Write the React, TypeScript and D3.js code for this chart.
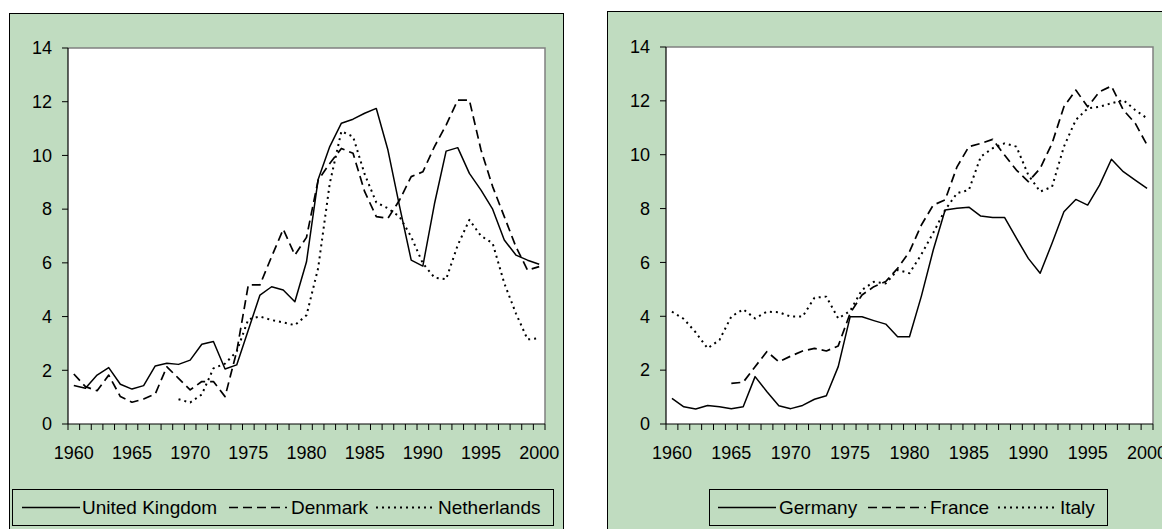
import React from 'react';
import * as d3 from 'd3';

const years = d3.range(1960, 2001);
const yTicks = [0, 2, 4, 6, 8, 10, 12, 14];
const xTickLabels = [1960, 1965, 1970, 1975, 1980, 1985, 1990, 1995, 2000];

const ukValues = [1.43, 1.33, 1.82, 2.1, 1.48, 1.3, 1.43, 2.16, 2.26, 2.22,
  2.38, 2.97, 3.07, 2.05, 2.2, 3.5, 4.8, 5.11, 4.99, 4.55,
  6.04, 9.1, 10.33, 11.2, 11.35, 11.57, 11.75, 10.2, 8.1, 6.1,
  5.88, 8.2, 10.16, 10.29, 9.33, 8.71, 8.0, 6.85, 6.29, 6.1, 5.95];
const denmarkValues = [1.86, 1.39, 1.24, 1.82, 1.02, 0.81, 0.93, 1.12, 2.13, 1.7,
  1.27, 1.58, 1.58, 1.02, 2.7, 5.18, 5.18, 6.23, 7.25, 6.29,
  6.95, 9.08, 9.7, 10.26, 10.08, 8.65, 7.72, 7.66, 8.34, 9.21,
  9.39, 10.33, 11.13, 12.06, 12.06, 10.2, 8.84, 7.72, 6.6, 5.73, 5.86];
const netherlandsValues = [null, null, null, null, null, null, null, null, null, 0.92,
  0.8, 1.1, 2.07, 2.25, 2.7, 3.9, 4.0, 3.87, 3.78, 3.68,
  4.05, 5.8, 8.96, 10.9, 10.7, 9.3, 8.25, 8.03, 7.72, 6.97,
  5.98, 5.45, 5.39, 6.66, 7.6, 7.0, 6.73, 5.24, 4.12, 3.15, 3.19];

const germanyValues = [0.95, 0.64, 0.56, 0.69, 0.64, 0.57, 0.64, 1.76, 1.2, 0.68,
  0.57, 0.69, 0.92, 1.05, 2.13, 3.98, 3.98, 3.84, 3.71, 3.24,
  3.24, 4.75, 6.46, 7.95, 8.01, 8.05, 7.72, 7.67, 7.67, 6.9,
  6.15, 5.6, 6.71, 7.88, 8.34, 8.13, 8.87, 9.83, 9.37, 9.06, 8.75];
const franceValues = [null, null, null, null, null, 1.51, 1.55, 2.13, 2.69, 2.31,
  2.52, 2.71, 2.81, 2.71, 2.9, 4.11, 4.79, 5.1, 5.29, 5.78,
  6.4, 7.39, 8.13, 8.32, 9.55, 10.3, 10.42, 10.57, 9.99, 9.43,
  9.0, 9.49, 10.42, 11.78, 12.4, 11.78, 12.34, 12.55, 11.66, 11.17, 10.36];
const italyValues = [4.17, 3.9, 3.4, 2.81, 3.12, 3.99, 4.26, 3.92, 4.17, 4.15,
  3.99, 3.99, 4.69, 4.73, 3.92, 4.2, 4.98, 5.28, 5.22, 5.72,
  5.6, 6.3, 7.1, 7.95, 8.57, 8.69, 9.93, 10.24, 10.42, 10.3,
  9.25, 8.63, 8.81, 10.3, 11.29, 11.72, 11.78, 11.91, 12.03, 11.66, 11.35];

const leftNames = ['United Kingdom', 'Denmark', 'Netherlands'];
const rightNames = ['Germany', 'France', 'Italy'];

const font = 'Liberation Sans, Arial, sans-serif';
// solid, long dash, round dot
const styles = [
  { dash: undefined, width: 1.5 },
  { dash: '9 5', width: 1.7 },
  { dash: '2 4', width: 2 },
];

type Props = {
  frame: { x: number; y: number; w: number; h: number };
  plot: { left: number; right: number; top: number; bottom: number };
  series: (number | null)[][];
  names: string[];
  legend: { x: number; y: number; w: number; h: number; lineX: number[]; textX: number[] };
};

const Panel = ({ frame, plot, series, names, legend }: Props) => {
  const x = d3.scaleBand<number>().domain(years).range([plot.left, plot.right]);
  const y = d3.scaleLinear().domain([0, 14]).range([plot.bottom, plot.top]);
  const cx = (i: number) => (x(years[i]) as number) + x.bandwidth() / 2;

  const line = d3.line<number | null>()
    .defined(d => d != null)
    .x((d, i) => cx(i))
    .y(d => y(d as number));

  // category axis: tick marks sit between the years
  const boundaries = d3.range(years.length + 1).map(i => plot.left + i * x.step());

  return (
    <g fontFamily={font} fill="#000">
      <rect x={frame.x} y={frame.y} width={frame.w} height={frame.h} fill="#c0dcc0" stroke="#000" strokeWidth={1} />
      <rect x={plot.left} y={plot.top} width={plot.right - plot.left} height={plot.bottom - plot.top} fill="#fff" />
      <path d={`M${plot.left},${plot.top}H${plot.right}V${plot.bottom}`} fill="none" stroke="#808080" strokeWidth={1.5} />

      {series.map((s, k) => (
        <path key={k} d={line(s) || ''} fill="none" stroke="#000"
          strokeWidth={styles[k].width} strokeDasharray={styles[k].dash} strokeLinejoin="round" />
      ))}

      <line x1={plot.left} x2={plot.left} y1={plot.top} y2={plot.bottom} stroke="#000" strokeWidth={1.2} />
      <line x1={plot.left} x2={plot.right} y1={plot.bottom} y2={plot.bottom} stroke="#000" strokeWidth={1.2} />

      {yTicks.map(t => (
        <g key={t}>
          <line x1={plot.left - 6} x2={plot.left} y1={y(t)} y2={y(t)} stroke="#000" />
          <text x={plot.left - 16} y={y(t)} dy=".35em" textAnchor="end" fontSize={18}>{t}</text>
        </g>
      ))}
      {boundaries.map((b, i) => (
        <line key={i} x1={b} x2={b} y1={plot.bottom} y2={plot.bottom + 6} stroke="#000" />
      ))}
      {xTickLabels.map(t => (
        <text key={t} x={cx(years.indexOf(t))} y={459} textAnchor="middle" fontSize={18}>{t}</text>
      ))}

      <rect x={legend.x} y={legend.y} width={legend.w} height={legend.h} fill="none" stroke="#000" strokeWidth={1} />
      {names.map((n, k) => (
        <g key={n}>
          <line x1={legend.lineX[k]} x2={legend.lineX[k] + 58} y1={legend.y + 18} y2={legend.y + 18}
            stroke="#000" strokeWidth={styles[k].width} strokeDasharray={styles[k].dash} />
          <text x={legend.textX[k]} y={legend.y + 24} fontSize={19}>{n}</text>
        </g>
      ))}
    </g>
  );
};

export default function App() {
  return (
    <svg width={1162} height={529} style={{ position: 'absolute', left: 0, top: 0 }}>
      <rect width={1162} height={529} fill="#fff" />
      <Panel
        frame={{ x: 9.5, y: 13.5, w: 554, h: 530 }}
        plot={{ left: 68, right: 545, top: 48, bottom: 424 }}
        series={[ukValues, denmarkValues, netherlandsValues]}
        names={leftNames}
        legend={{ x: 12.5, y: 489.5, w: 541, h: 36, lineX: [22, 229, 376], textX: [82, 291, 438] }}
      />
      <Panel
        frame={{ x: 607.5, y: 11.5, w: 570, h: 530 }}
        plot={{ left: 666, right: 1153, top: 47, bottom: 424 }}
        series={[germanyValues, franceValues, italyValues]}
        names={rightNames}
        legend={{ x: 709.5, y: 489.5, w: 398, h: 36, lineX: [718, 868, 998], textX: [779, 930, 1060] }}
      />
    </svg>
  );
}
